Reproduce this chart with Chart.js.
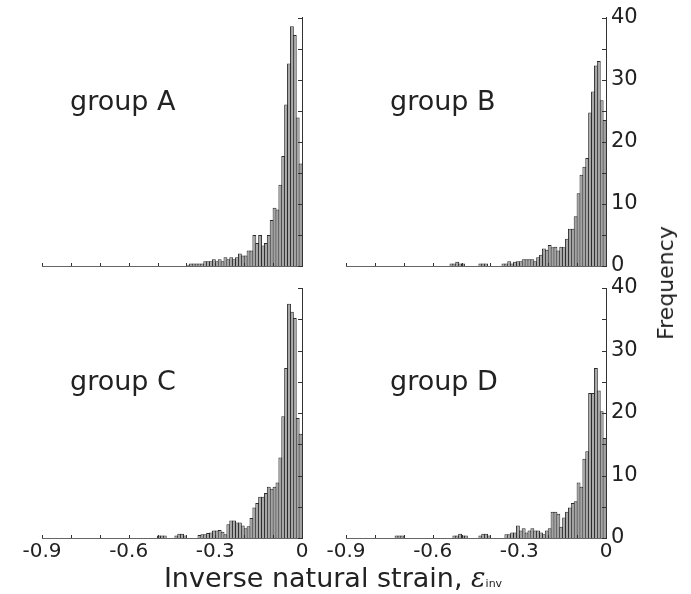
<!DOCTYPE html>
<html><head><meta charset="utf-8">
<script src="https://cdn.jsdelivr.net/npm/chart.js@4.4.1/dist/chart.umd.min.js"></script>
<style>
html,body{margin:0;padding:0;background:#fff;}
#wrap{position:relative;width:691px;height:594px;overflow:hidden;font-family:"DejaVu Sans",Verdana,sans-serif;color:#222;}
canvas{position:absolute;left:0;top:0;}
.lbl{position:absolute;white-space:nowrap;line-height:1;}
</style></head><body>
<div id="wrap">
<canvas id="cA" width="691" height="594"></canvas>
<canvas id="cB" width="691" height="594"></canvas>
<canvas id="cC" width="691" height="594"></canvas>
<canvas id="cD" width="691" height="594"></canvas>
<div class="lbl" id="tA" style="left:70px;top:87px;font-size:27px;">group A</div>
<div class="lbl" id="tB" style="left:390px;top:87px;font-size:27px;">group B</div>
<div class="lbl" id="tC" style="left:70px;top:367px;font-size:27px;">group C</div>
<div class="lbl" id="tD" style="left:390px;top:367px;font-size:27px;">group D</div>
<div class="lbl" id="yt" style="left:666px;top:283px;font-size:22px;transform:translate(-50%,-50%) rotate(-90deg);">Frequency</div>
<div class="lbl" id="xt" style="left:333px;top:564px;font-size:27px;transform:translateX(-50%);">Inverse natural strain, <span style="font-family:'DejaVu Serif',serif;font-style:italic;">ε</span><span style="font-size:11px;">inv</span></div>
</div>
<script>
// histogram bins: 0.01 wide, from -0.9 to 0
const binStart = -0.9;
const binWidth = 0.01;
const xTickLabels = ['-0.9', '-0.6', '-0.3', '0'];
const yTickLabels = ['0', '10', '20', '30', '40'];

const groupA = [
  0,0,0,0,0,0,0,0,0,0,
  0,0,0,0,0,0,0,0,0,0,
  0,0,0,0,0,0,0,0,0,0,
  0,0,0,0,0,0,0,0,0,0,
  0,0,0,0,0,0,0,0,0,0,
  0.2,0.4,0.4,0.4,0.4,0.4,0.75,0.75,0.75,1.1,
  0.75,1.1,0.75,1.4,1.1,1.4,1.1,1.4,2.0,1.7,
  1.7,2.5,2.5,5.0,3.7,5.0,3.3,3.7,5.0,7.4,
  9.4,9.1,13.1,17.7,26.0,32.6,38.6,37.2,23.9,16.5
];
const groupB = [
  0,0,0,0,0,0,0,0,0,0,
  0,0,0,0,0,0,0,0,0,0,
  0,0,0,0,0,0,0,0,0,0,
  0,0,0,0,0,0,0.4,0.4,0.7,0.4,
  0.4,0,0,0,0,0,0.4,0.4,0.4,0,
  0,0,0,0,0.4,0.4,0.75,0.4,0.7,0.75,
  0.75,1.1,1.1,1.1,1.1,0.75,1.4,1.8,2.8,2.6,
  3.4,3.0,3.1,2.5,3.1,3.0,4.4,6.0,6.0,8.0,
  11.7,14.7,16.0,17.4,24.7,28.1,32.3,33.0,26.7,23.5
];
const groupC = [
  0,0,0,0,0,0,0,0,0,0,
  0,0,0,0,0,0,0,0,0,0,
  0,0,0,0,0,0,0,0,0,0,
  0,0,0,0,0,0,0,0,0,0,
  0.4,0.4,0.4,0,0,0,0.4,0.7,0.7,0.4,
  0,0,0,0,0.5,0.6,0.6,0.8,0.9,1.2,
  1.2,1.3,1.0,0.6,2.2,2.8,2.8,2.5,2.5,2.0,
  1.55,1.9,3.2,4.9,5.6,6.6,6.6,7.2,8.2,7.9,
  8.2,8.9,12.9,19.5,27.2,37.5,36.2,35.2,19.2,16.7
];
const groupD = [
  0,0,0,0,0,0,0,0,0,0,
  0,0,0,0,0,0,0,0.4,0.4,0.4,
  0,0,0,0,0,0,0,0,0,0,
  0,0,0,0,0,0,0,0.4,0.4,0.7,
  0.4,0.4,0,0,0,0,0.4,0.7,0.7,0.4,
  0,0,0,0,0,0.6,0.6,0.9,0.9,2.0,
  1.2,1.55,0.9,1.2,1.55,1.2,1.2,0.9,0.6,1.2,
  1.55,4.2,4.2,3.9,1.8,3.3,4.2,4.9,5.6,5.9,
  8.9,8.2,12.7,13.9,23.2,23.2,27.2,23.6,20.3,16.0
];

const FONT = '"DejaVu Sans", Verdana, sans-serif';
const W = 691, H = 594, YW = 50, XH = 30;

const inwardTicks = {
  id: 'inwardTicks',
  afterDatasetsDraw(chart) {
    const {ctx, chartArea: a, scales: {x, y}} = chart;
    ctx.save();
    ctx.strokeStyle = '#333';
    ctx.lineWidth = 1;
    ctx.beginPath();
    x.ticks.forEach(t => {
      const px = Math.round(x.getPixelForValue(t.value)) + 0.5;
      ctx.moveTo(px, a.bottom); ctx.lineTo(px, a.bottom - 3);
    });
    y.ticks.forEach(t => {
      const py = Math.round(y.getPixelForValue(t.value)) + 0.5;
      ctx.moveTo(a.right, py); ctx.lineTo(a.right - 4, py);
    });
    ctx.stroke();
    ctx.restore();
  }
};

function makePanel(id, values, box, showX, showY) {
  const pts = values.map((v, i) => ({x: binStart + binWidth * (i + 0.5), y: v}));
  new Chart(document.getElementById(id), {
    type: 'bar',
    data: {datasets: [{
      data: pts,
      backgroundColor: '#a4a4a4',
      borderColor: '#2b2b2b',
      borderWidth: 1,
      barPercentage: 1,
      categoryPercentage: 1.346,
      grouped: false
    }]},
    options: {
      responsive: false,
      animation: false,
      devicePixelRatio: 1,
      layout: {padding: {left: box.l, top: box.t, right: W - box.r - YW, bottom: H - box.b - XH}},
      plugins: {legend: {display: false}, tooltip: {enabled: false}, title: {display: false}},
      scales: {
        x: {
          type: 'linear', min: -0.9, max: 0, offset: false,
          grid: {display: false, drawTicks: false, offset: false},
          border: {display: true, color: '#666', width: 1},
          ticks: {
            stepSize: 0.1, autoSkip: false, maxRotation: 0, minRotation: 0, padding: 2,
            color: '#222', font: {family: FONT, size: 20},
            callback: (v) => {
              if (!showX) return '';
              const t = Math.round(v * 10);
              const s = t === 0 ? '0' : (t / 10).toFixed(1);
              return xTickLabels.includes(s) ? s : '';
            }
          },
          afterFit: (s) => { s.height = XH; }
        },
        y: {
          type: 'linear', position: 'right', min: 0, max: 40,
          grid: {display: false, drawTicks: false},
          border: {display: true, color: '#333', width: 1},
          ticks: {
            stepSize: 5, autoSkip: false, padding: 5,
            color: '#222', font: {family: FONT, size: 21},
            callback: (v) => {
              if (!showY) return '';
              const s = String(Math.round(v));
              return yTickLabels.includes(s) ? s : '';
            }
          },
          afterFit: (s) => { s.width = YW; }
        }
      }
    },
    plugins: [inwardTicks]
  });
}

makePanel('cA', groupA, {l: 42, r: 302, t: 16, b: 266}, false, false);
makePanel('cB', groupB, {l: 346, r: 606, t: 16, b: 266}, false, true);
makePanel('cC', groupC, {l: 42, r: 302, t: 288, b: 538}, true, false);
makePanel('cD', groupD, {l: 346, r: 606, t: 288, b: 538}, true, true);
</script>
</body></html>
